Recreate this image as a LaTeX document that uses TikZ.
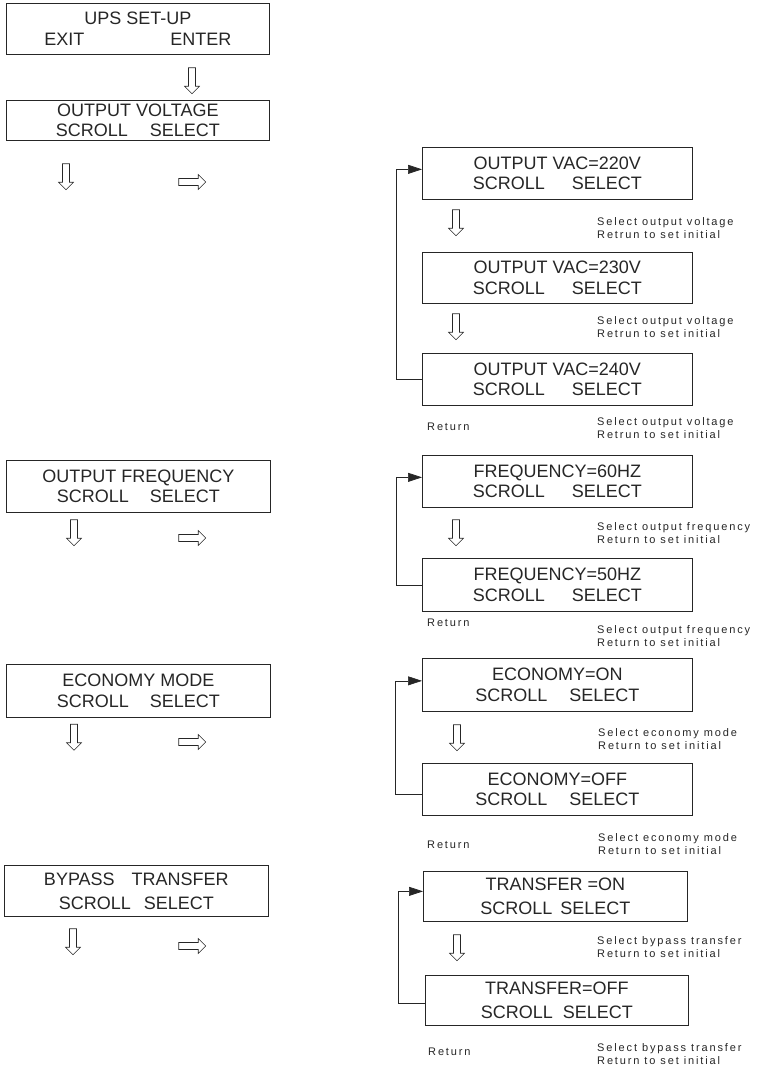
\documentclass[tikz,border=0pt]{standalone}
\usepackage{fontspec}
\setmainfont{Liberation Sans}
\newfontfamily\notefont[LetterSpace=17]{Liberation Sans}
\usetikzlibrary{arrows.meta,shapes.arrows}

\tikzset{
  panel/.style={draw=black!85, line width=0.7pt, anchor=north west, inner sep=0pt,
    align=center, font=\fontsize{18}{20.5}\selectfont, text=black!85},
  wide/.style={font=\fontsize{18}{24}\selectfont},
  dnarrow/.style={single arrow, draw=black!85, line width=0.6pt, shape border rotate=270,
    minimum height=26pt, inner sep=3.2pt, single arrow head extend=4pt},
  rtarrow/.style={single arrow, draw=black!85, line width=0.6pt,
    minimum height=27pt, inner sep=3.2pt, single arrow head extend=4pt},
  note/.style={anchor=west, align=left, inner sep=0pt, text=black!85,
    font=\notefont\fontsize{11}{12.5}\selectfont},
  back/.style={draw=black!85, line width=0.7pt, -{Triangle[length=14pt,width=9pt]}}
}

\begin{document}
\begin{tikzpicture}[x=1pt, y=-1pt]
  \useasboundingbox (0,0) rectangle (758,1069);

  % set-up and output voltage
  \node[panel, minimum width=263pt, minimum height=51pt] (ups) at (6,3)
    {UPS SET-UP\\EXIT\hspace{86pt}ENTER};
  \node[dnarrow] (ups-dn) at (192,79) {};
  \node[panel, minimum width=263pt, minimum height=40pt] (outv) at (6,100)
    {OUTPUT VOLTAGE\\SCROLL\hspace{22pt}SELECT};
  \node[dnarrow] (outv-dn) at (66,175) {};
  \node[rtarrow] (outv-rt) at (190.5,182) {};

  \node[panel, minimum width=270pt, minimum height=52pt] (v220) at (422,147)
    {OUTPUT VAC=220V\\SCROLL\hspace{27pt}SELECT};
  \node[dnarrow] (v220-dn) at (456,221) {};
  \node[note] (v220-note) at (597,228) {Select output voltage\\Retrun to set initial};
  \node[panel, minimum width=270pt, minimum height=51pt] (v230) at (422,252)
    {OUTPUT VAC=230V\\SCROLL\hspace{27pt}SELECT};
  \node[dnarrow] (v230-dn) at (456,325) {};
  \node[note] (v230-note) at (597,327) {Select output voltage\\Retrun to set initial};
  \node[panel, minimum width=270pt, minimum height=52pt] (v240) at (422,353)
    {OUTPUT VAC=240V\\SCROLL\hspace{27pt}SELECT};
  \node[note] (v-ret) at (427,427) {Return};
  \node[note] (v240-note) at (597,428) {Select output voltage\\Retrun to set initial};
  \draw[back] (v240.west) -- ++(-26,0) |- ([yshift=4pt]v220.west);

  % output frequency
  \node[panel, minimum width=264pt, minimum height=52pt] (outf) at (6,460)
    {OUTPUT FREQUENCY\\SCROLL\hspace{21pt}SELECT};
  \node[dnarrow] (outf-dn) at (74,531) {};
  \node[rtarrow] (outf-rt) at (190.5,538) {};

  \node[panel, minimum width=270pt, minimum height=52pt] (f60) at (422,455)
    {FREQUENCY=60HZ\\SCROLL\hspace{27pt}SELECT};
  \node[dnarrow] (f60-dn) at (456,531) {};
  \node[note] (f60-note) at (597,533) {Select output frequency\\Return to set initial};
  \node[panel, minimum width=270pt, minimum height=53pt] (f50) at (422,558)
    {FREQUENCY=50HZ\\SCROLL\hspace{27pt}SELECT};
  \node[note] (f-ret) at (427,623) {Return};
  \node[note] (f50-note) at (597,636) {Select output frequency\\Return to set initial};
  \draw[back] (f50.west) -- ++(-26,0) |- ([yshift=4pt]f60.west);

  % economy mode
  \node[panel, minimum width=264pt, minimum height=53pt] (ecom) at (6,664)
    {ECONOMY MODE\\SCROLL\hspace{21pt}SELECT};
  \node[dnarrow] (ecom-dn) at (74,735.5) {};
  \node[rtarrow] (ecom-rt) at (190.5,742) {};

  \node[panel, minimum width=270pt, minimum height=53pt] (eon) at (422,658)
    {ECONOMY=ON\\SCROLL\hspace{22pt}SELECT};
  \node[dnarrow] (eon-dn) at (457,736) {};
  \node[note] (eon-note) at (598,739) {Select economy mode\\Return to set initial};
  \node[panel, minimum width=270pt, minimum height=52pt] (eoff) at (422,763)
    {ECONOMY=OFF\\SCROLL\hspace{22pt}SELECT};
  \node[note] (e-ret) at (427,845) {Return};
  \node[note] (eoff-note) at (598,844) {Select economy mode\\Return to set initial};
  \draw[back] ([yshift=-5pt]eoff.west) -- ++(-27,0) |- ([yshift=4pt]eon.west);

  % bypass transfer
  \node[panel, wide, minimum width=264pt, minimum height=51pt] (byp) at (4,865)
    {BYPASS\hspace{17pt}TRANSFER\\SCROLL\hspace{13pt}SELECT};
  \node[dnarrow] (byp-dn) at (73,940) {};
  \node[rtarrow] (byp-rt) at (190.5,946) {};

  \node[panel, wide, minimum width=264pt, minimum height=50pt] (ton) at (423,871)
    {TRANSFER =ON\\SCROLL\hspace{8pt}SELECT};
  \node[dnarrow] (ton-dn) at (457,946) {};
  \node[note] (ton-note) at (597,947) {Select bypass transfer\\Return to set initial};
  \node[panel, wide, minimum width=263pt, minimum height=50pt] (toff) at (425,975)
    {TRANSFER=OFF\\SCROLL\hspace{10pt}SELECT};
  \node[note] (t-ret) at (428,1052) {Return};
  \node[note] (toff-note) at (597,1054) {Select bypass transfer\\Return to set initial};
  \draw[back] ([yshift=-3pt]toff.west) -- ++(-27,0) |- ([yshift=5pt]ton.west);
\end{tikzpicture}
\end{document}
